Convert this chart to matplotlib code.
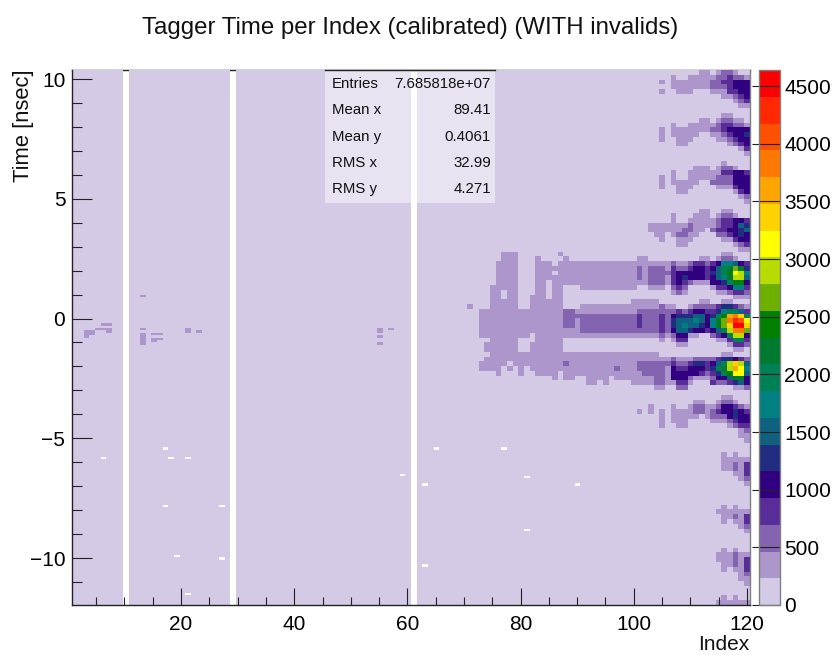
#!/usr/bin/env python3
# Tagger time vs index, ROOT style 2D histogram

import matplotlib
matplotlib.use("Agg")
import matplotlib.pyplot as plt
import numpy as np
from matplotlib.colors import BoundaryNorm, ListedColormap
from matplotlib.patches import Rectangle
from matplotlib.ticker import MultipleLocator

plt.rcParams["font.family"] = ["Liberation Sans", "DejaVu Sans"]

# palette steps, bottom to top of the colour bar
palette = ["#d4cae6", "#ac96cb", "#8464b0", "#582d98", "#300080", "#202d80", "#106080",
           "#008080", "#008055", "#007a30", "#008000", "#6db000", "#b9dc00", "#ffff00",
           "#ffd200", "#ffa500", "#ff7800", "#ff5000", "#ff2800", "#ff0000"]
z_max = 4640.0

x_ticks = [20, 40, 60, 80, 100, 120]
y_ticks = [-10, -5, 0, 5, 10]
z_ticks = [0, 500, 1000, 1500, 2000, 2500, 3000, 3500, 4000, 4500]

stat_names = ["Entries", "Mean x", "Mean y", "RMS x", "RMS y"]
stat_values = ["7.685818e+07", "89.41", "0.4061", "32.99", "4.271"]

# bins with no entries
empty_columns = [10, 29, 61]
empty_cells = [(6, -5.82), (17, -5.41), (18, -5.82), (21, -5.82), (17, -7.79), (27, -7.87),
               (19, -9.87), (27, -10.0), (21, -11.5), (59, -6.53), (63, -6.95), (63, -10.29),
               (65, -5.41), (77, -5.41), (81, -6.66), (81, -8.79), (90, -6.95)]

# lone low-count bins (column, time)
sparse_cells = [(6, -0.27), (7, -0.27), (5, -0.44), (6, -0.44), (7, -0.44), (3, -0.53), (4, -0.53),
                (3, -0.63), (4, -0.63), (7, -0.56), (3, -0.75), (13, 0.94), (13, -0.44),
                (13, -0.65), (13, -0.75), (13, -0.85), (13, -0.95), (13, -1.05), (15, -0.68),
                (16, -0.68), (15, -0.88), (16, -0.88), (15, -0.98), (21, -0.4), (21, -0.5),
                (23, -0.57), (55, -0.4), (55, -0.5), (55, -0.75), (55, -1.05), (57, -0.45)]

# middle block: row -> (first column, last column, level)
mid_runs = {
    38: [(77, 79, 1), (87, 87, 1)],
    39: [(77, 79, 1), (83, 83, 1), (88, 88, 1)],
    40: [(76, 79, 1), (83, 85, 1), (87, 99, 1)],
    41: [(76, 79, 1), (83, 86, 1), (87, 99, 1)],
    42: [(76, 79, 1), (83, 85, 1), (87, 99, 1)],
    43: [(76, 79, 1), (83, 85, 1), (86, 99, 1)],
    44: [(76, 79, 1), (83, 84, 1), (86, 99, 1)],
    45: [(75, 79, 1), (83, 84, 1), (86, 87, 1), (91, 99, 1)],
    46: [(75, 76, 1), (78, 79, 1), (83, 84, 1), (86, 87, 1)],
    47: [(75, 76, 1), (78, 79, 1), (82, 84, 1), (86, 87, 1)],
    48: [(75, 79, 1), (82, 87, 1)],
    49: [(71, 71, 1), (75, 79, 1), (82, 87, 1), (91, 99, 1)],
    50: [(73, 81, 1), (82, 87, 1), (88, 89, 2), (90, 99, 1)],
    51: [(73, 81, 1), (82, 87, 1), (88, 90, 2), (91, 99, 2)],
    52: [(73, 81, 1), (82, 87, 1), (88, 89, 2), (90, 90, 1), (91, 99, 2)],
    53: [(73, 81, 1), (82, 87, 1), (88, 89, 2), (90, 90, 1), (91, 99, 2)],
    54: [(73, 81, 1), (82, 87, 1), (88, 90, 1), (91, 99, 2)],
    55: [(73, 81, 1), (83, 87, 1), (88, 99, 1)],
    56: [(75, 79, 1), (83, 87, 1)],
    57: [(74, 79, 1), (82, 87, 1)],
    58: [(74, 79, 1), (82, 87, 1)],
    59: [(75, 81, 1), (82, 87, 1), (88, 99, 1)],
    60: [(74, 81, 1), (82, 87, 1), (88, 99, 1)],
    61: [(73, 77, 1), (79, 81, 1), (82, 87, 1), (88, 88, 2), (89, 99, 1)],
    62: [(73, 76, 1), (78, 78, 1), (80, 80, 1), (82, 87, 1), (88, 96, 1), (97, 97, 2), (98, 99, 1)],
    63: [(76, 76, 1), (80, 80, 1), (83, 86, 1), (88, 99, 1)],
    64: [(86, 86, 1), (88, 89, 1), (92, 95, 1), (97, 99, 1)],
    65: [(92, 93, 1), (95, 95, 1)],
}

# right block: row -> levels, last character is column 120, base 36 digits
right_rows = {
    0: "000000000000110122100",
    1: "000000010011111223221",
    2: "000001011111112233444",
    3: "000000011111112223444",
    4: "000001001110001113344",
    5: "011234",
    6: "000123",
    7: "000011",
    9: "011000",
    10: "000000000000110122110",
    11: "000000010011111233221",
    12: "000001011111112234444",
    13: "000001011111001123445",
    14: "000001001110000112344",
    15: "000000001100000001234",
    16: "000013",
    17: "000001",
    19: "010000",
    20: "000000000001110122100",
    21: "000000010011111133443",
    22: "000001010011111222444",
    23: "000001011111002222444",
    24: "000001001110000111344",
    25: "000000001100000000134",
    26: "000012",
    27: "000001",
    29: "000000000000110011000",
    30: "000000010001110122100",
    31: "000000010011111233443",
    32: "000111111121111233465",
    33: "000111111221102334456",
    34: "000011012211000223454",
    35: "000001001110000011344",
    36: "000000001100000000123",
    37: "000011",
    38: "011000",
    39: "011000000000110122100",
    40: "111111121123323477643",
    41: "121222132234434689b95",
    42: "121222234444435" "68adc7",
    43: "121222134544434" "679cc6",
    44: "111222134321114" "458aa4",
    45: "100111023200001" "334773",
    46: "000000012100000112332",
    47: "000000000000000000111",
    48: "111110000000110011000",
    49: "111112110012222" "355321",
    50: "122222223234433" "578863",
    51: "232223245556645" "8afge8",
    52: "232223256667647" "9bgihd",
    53: "232223256766547" "9bejje",
    54: "222223246654434" "68cggb",
    55: "111112124411002" "348cc4",
    56: "000001013300000" "113883",
    57: "000000001100000" "001332",
    58: "000000000000000000110",
    59: "111110000000000011000",
    60: "111111121112222" "355432",
    61: "122222232235534" "68cec6",
    62: "122222143344435" "89cfd7",
    63: "112222144444323" "58add6",
    64: "111122144421112" "446994",
    65: "111122113310003" "223564",
    66: "000011002200000000112",
    68: "011000",
    69: "000000000001100122100",
    70: "000100010012211" "244321",
    71: "010101011112212" "344543",
    72: "000001011111012" "224544",
    73: "000001011100001" "112344",
    74: "000001001100000" "001233",
    75: "000012",
    76: "000011",
    77: "000001",
    80: "010100",
    81: "011111",
    82: "011213",
    83: "011213",
    84: "000113",
    85: "000012",
    86: "000001",
    91: "010100",
    92: "111111",
    93: "011213",
    94: "010113",
    95: "000012",
    96: "000001",
    100: "010100",
    101: "111211",
    102: "111213",
    103: "011213",
    104: "010113",
    105: "000012",
    106: "000011",
    107: "000001",
    110: "010100",
    111: "111111",
}

# layout
fig_w, fig_h = 835, 655
left, right, top, bottom = 72.3, 749.7, 70.0, 605.0
x_min, x_max = 0.78, 120.5
y_min, y_max = -11.96, 10.376
n_cols, n_rows = 120, 224  # 0.1 ns rows


def build_counts():
    step = z_max / len(palette)
    levels = np.zeros((n_rows, n_cols), dtype=float)
    dy = (y_max - y_min) / n_rows

    for row, runs in mid_runs.items():
        for c0, c1, lvl in runs:
            levels[2 * row:2 * row + 2, c0 - 1:c1] = lvl

    for row, text in right_rows.items():
        text = text.rjust(21, "0")
        for i, ch in enumerate(text):
            lvl = int(ch, 36)
            if lvl:
                levels[2 * row:2 * row + 2, 99 + i] = lvl

    for col, t in sparse_cells:
        levels[int((y_max - t) / dy), col - 1] = 1

    counts = (levels + 0.5) * step
    for col in empty_columns:
        counts[:, col - 1] = np.nan
    for col, t in empty_cells:
        counts[int((y_max - t) / dy), col - 1] = np.nan
    return counts


def main() -> None:
    fig = plt.figure(figsize=(fig_w / 100, fig_h / 100), dpi=100)
    ax = fig.add_axes([left / fig_w, 1 - bottom / fig_h, (right - left) / fig_w, (bottom - top) / fig_h])

    bounds = np.linspace(0, z_max, len(palette) + 1)
    cmap = ListedColormap(palette)
    cmap.set_bad((1, 1, 1, 0))
    norm = BoundaryNorm(bounds, cmap.N)

    x_edges = np.linspace(x_min, x_max, n_cols + 1)
    y_edges = np.linspace(y_max, y_min, n_rows + 1)
    mesh = ax.pcolormesh(x_edges, y_edges, np.ma.masked_invalid(build_counts()),
                         cmap=cmap, norm=norm, zorder=1.5, linewidth=0, rasterized=True)
    ax.set_xlim(x_min, x_max)
    ax.set_ylim(y_min, y_max)

    for name, sp in ax.spines.items():
        sp.set_linewidth(1.0)
        sp.set_color("#222222")
    ax.spines["top"].set_zorder(1)
    ax.spines["right"].set_color("#808080")

    ax.set_xticks(x_ticks)
    ax.set_yticks(y_ticks)
    ax.xaxis.set_minor_locator(MultipleLocator(5))
    ax.yaxis.set_minor_locator(MultipleLocator(1))
    ax.tick_params(axis="x", which="major", direction="in", length=12, width=0.8, labelsize=15, pad=7, color="#222222")
    ax.tick_params(axis="x", which="minor", direction="in", length=6, width=0.8, color="#222222")
    ax.tick_params(axis="y", which="major", direction="in", length=14.5, width=0.8, labelsize=15, pad=5, color="#222222")
    ax.tick_params(axis="y", which="minor", direction="in", length=7, width=0.8, color="#222222")

    fig.text(410.5 / fig_w, 1 - 28 / fig_h, "Tagger Time per Index (calibrated) (WITH invalids)",
             ha="center", va="center", fontsize=17.3, color="#111111")
    fig.text(749 / fig_w, 1 - 644 / fig_h, "Index", ha="right", va="center", fontsize=15, color="#111111")
    fig.text(23 / fig_w, 1 - 69 / fig_h, "Time [nsec]", ha="center", va="top", rotation=90, fontsize=15.8, color="#111111")

    # stats box
    fig.add_artist(Rectangle((325 / fig_w, 1 - 203 / fig_h), 170 / fig_w, 133 / fig_h, transform=fig.transFigure,
                             facecolor="white", edgecolor="none", alpha=0.47, zorder=4))
    fig.add_artist(plt.Line2D([325 / fig_w, 495 / fig_w], [1 - 70 / fig_h] * 2, transform=fig.transFigure,
                              color="#222222", lw=1.0, zorder=5))
    for i, (name, value) in enumerate(zip(stat_names, stat_values)):
        py = 84 + i * 26.3
        fig.text(332 / fig_w, 1 - py / fig_h, name, ha="left", va="center", fontsize=10.8, color="#111111", zorder=6)
        fig.text(491 / fig_w, 1 - py / fig_h, value, ha="right", va="center", fontsize=10.8, color="#111111", zorder=6)

    # colour bar
    cax = fig.add_axes([759 / fig_w, 1 - bottom / fig_h, 21 / fig_w, (bottom - top) / fig_h])
    cbar = fig.colorbar(mesh, cax=cax, ticks=z_ticks, spacing="proportional", drawedges=False)
    cbar.minorticks_off()
    cbar.outline.set_edgecolor("#808080")
    cbar.outline.set_linewidth(1.0)
    cax.tick_params(axis="y", direction="in", length=20, width=0.8, labelsize=15, pad=3, color="#222222")

    fig.savefig("out.png", dpi=100)
    plt.close(fig)


if __name__ == "__main__":
    main()
